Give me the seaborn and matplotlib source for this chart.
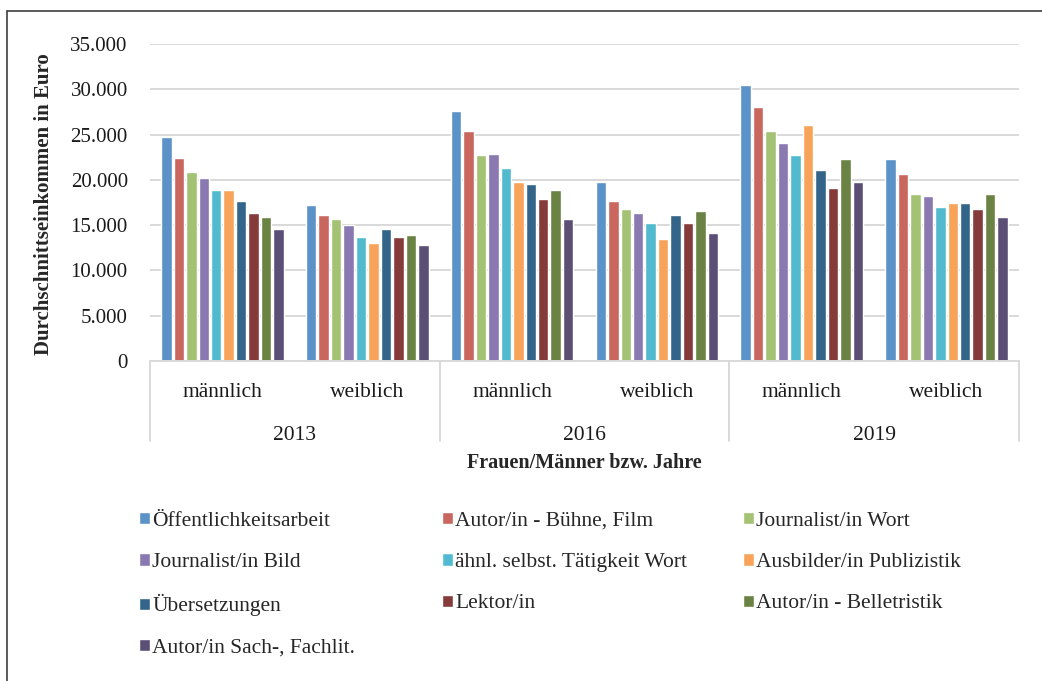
import seaborn as sns
import pandas as pd
import matplotlib.pyplot as plt
import matplotlib.transforms as mtransforms
from matplotlib.ticker import FuncFormatter
from matplotlib.lines import Line2D

# Daten (Durchschnittseinkommen in Euro), Reihenfolge: 2013 m/w, 2016 m/w, 2019 m/w
jahre = ["2013", "2016", "2019"]
geschlecht = ["männlich", "weiblich"]
berufe = ["Öffentlichkeitsarbeit", "Autor/in - Bühne, Film", "Journalist/in Wort",
          "Journalist/in Bild", "ähnl. selbst. Tätigkeit Wort", "Ausbilder/in Publizistik",
          "Übersetzungen", "Lektor/in", "Autor/in - Belletristik", "Autor/in Sach-, Fachlit."]

oeffentlichkeit = [24700, 17250, 27600, 19750, 30450, 22250]
buehne_film = [22450, 16150, 25400, 17700, 28000, 20650]
journ_wort = [20900, 15700, 22700, 16800, 25400, 18400]
journ_bild = [20200, 15050, 22900, 16350, 24050, 18200]
aehnl_wort = [18850, 13700, 21350, 15200, 22700, 17050]
ausbilder = [18850, 13050, 19750, 13500, 26050, 17450]
uebersetzung = [17700, 14550, 19550, 16150, 21100, 17450]
lektor = [16350, 13700, 17900, 15200, 19050, 16800]
belletristik = [15900, 13900, 18850, 16600, 22250, 18400]
sachbuch = [14550, 12800, 15650, 14100, 19750, 15900]

farben = ["#5b92c8", "#c9675f", "#a3c273", "#8a78b0", "#51bace", "#f8a35a",
          "#33658a", "#843b3a", "#6a8243", "#5b4f75"]

alle = [oeffentlichkeit, buehne_film, journ_wort, journ_bild, aehnl_wort,
        ausbilder, uebersetzung, lektor, belletristik, sachbuch]
order = [f"{j} {g}" for j in jahre for g in geschlecht]
rows = []
for beruf, werte in zip(berufe, alle):
    for gruppe, wert in zip(order, werte):
        rows.append({"gruppe": gruppe, "beruf": beruf, "einkommen": wert})
df = pd.DataFrame(rows)

sns.set_style("white")
plt.rcParams['font.family'] = ['Liberation Serif', 'DejaVu Serif']

fig = plt.figure(figsize=(10.42, 6.81), dpi=100)
W, H = 1042, 681
ax = fig.add_axes([150/W, 1-361/H, (1019-150)/W, (361-44)/H])

sns.barplot(data=df, x="gruppe", y="einkommen", hue="beruf", order=order,
            hue_order=berufe, palette=farben, width=0.86, gap=0.16,
            errorbar=None, saturation=1, ax=ax)

ax.set_xlim(-0.5, 5.5)
ax.set_ylim(0, 35000)
ax.set_yticks(range(0, 35001, 5000))
ax.yaxis.set_major_formatter(FuncFormatter(lambda v, p: f"{int(v):,}".replace(",", ".")))
ax.grid(axis='y', color='#d9d9d9', lw=1.4)
ax.set_axisbelow(True)
for s in ['left', 'right', 'top']:
    ax.spines[s].set_visible(False)
ax.spines['bottom'].set_color('#d9d9d9')
ax.spines['bottom'].set_linewidth(1.4)

ax.set_xticks(range(6))
ax.set_xticklabels(geschlecht * 3)
ax.tick_params(axis='x', length=0, pad=15.5, labelsize=15.5, labelcolor='#1a1a1a')
ax.tick_params(axis='y', length=0, pad=16, labelsize=15, labelcolor='#1a1a1a')
ax.set_xlabel("")
ax.set_ylabel("")

# mehrstufige Kategorieachse
trans = mtransforms.blended_transform_factory(ax.transData, ax.transAxes)
unten = -(441 - 361) / (361 - 44)
for xv in [-0.5, 1.5, 3.5, 5.5]:
    ax.plot([xv, xv], [0, unten], transform=trans, color='#d9d9d9', lw=1.4, clip_on=False)
for k, jahr in enumerate(jahre):
    ax.text(2*k + 0.5, -(435 - 361) / (361 - 44), jahr, transform=trans,
            ha='center', va='center', fontsize=15.5, color='#1a1a1a')

fig.text(584/W, 1-463/H, "Frauen/Männer bzw. Jahre", ha='center', va='center',
         fontsize=14.5, fontweight='bold')
fig.text(44/W, 1-204/H, "Durchschnittseinkommen in Euro", ha='center', va='center',
         rotation=90, fontsize=15, fontweight='bold')

# Legende in drei Spalten
handles, labels = ax.get_legend_handles_labels()
ax.get_legend().remove()
spalten = [[0, 3, 6, 9], [1, 4, 7], [2, 5, 8]]
for xs, idx in zip([139, 442, 743], spalten):
    fig.legend([handles[i] for i in idx], [labels[i] for i in idx],
               loc='upper left', bbox_to_anchor=(xs/W, 1-512/H), frameon=False,
               borderpad=0, borderaxespad=0, fontsize=15.5, handlelength=0.5,
               handleheight=0.5, handletextpad=0.12, labelspacing=1.03)

# Rahmen (angeschnitten)
fig.add_artist(Line2D([7/W, 7/W], [0, 1-11/H], color='#404040', lw=1.2))
fig.add_artist(Line2D([7/W, 1], [1-11/H, 1-11/H], color='#404040', lw=1.2))

fig.savefig("out.png", dpi=100)
